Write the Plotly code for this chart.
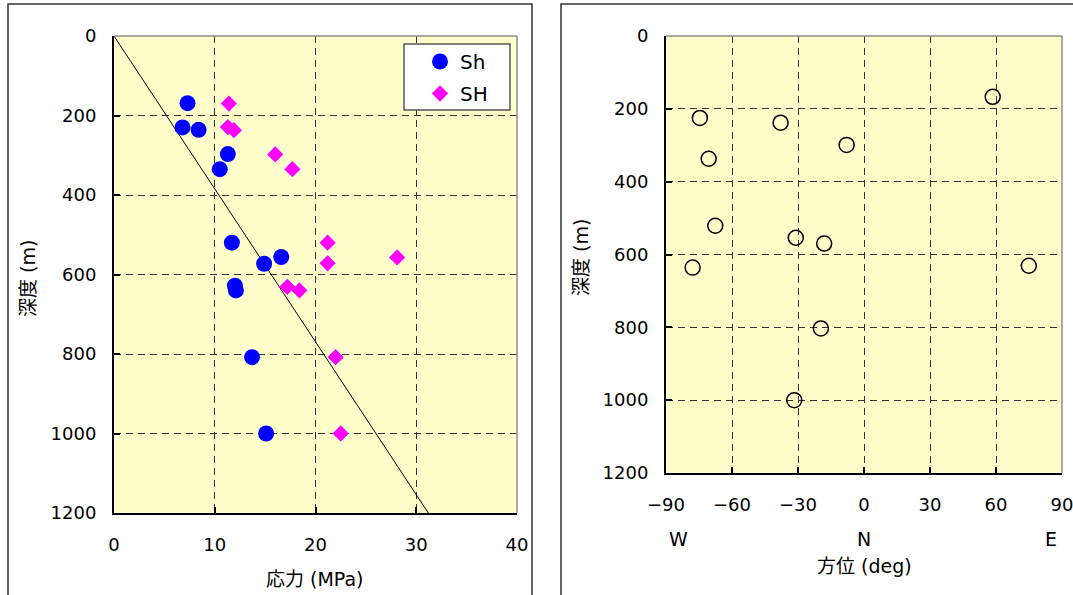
import plotly.graph_objects as go

# ---- data ----
sh_stress = [7.3, 6.8, 8.4, 11.3, 10.5, 11.7, 14.9, 16.6, 12.0, 12.1, 13.7, 15.1]
sh_depth = [169, 230, 236, 297, 335, 520, 573, 556, 628, 640, 808, 1000]
SH_stress = [11.4, 11.3, 11.9, 16.0, 17.7, 21.2, 21.2, 28.1, 17.2, 18.4, 22.0, 22.5]
SH_depth = [170, 229, 237, 298, 335, 520, 572, 557, 631, 640, 808, 1000]
line_stress = [0, 31.2]
line_depth = [0, 1200]

az_deg = [-74.6, -70.6, -67.6, -77.9, -37.9, -7.9, -31.0, -18.1, 58.5, 74.9, -19.6, -31.7]
az_depth = [225, 337, 521, 636, 238, 299, 554, 570, 167, 631, 803, 1000]

stress_ticks = [0, 10, 20, 30, 40]
depth_ticks = [0, 200, 400, 600, 800, 1000, 1200]
az_ticks = [-90, -60, -30, 0, 30, 60, 90]
az_ticktext = ["\u221290", "\u221260", "\u221230", "0", "30", "60", "90"]
dir_labels = ["W", "N", "E"]

W, H = 1073, 595
FONT = "DejaVu Sans, Noto Sans CJK JP, sans-serif"
GRID = "#333333"
BG = "#FFFFCC"

fig = go.Figure()

fig.add_trace(go.Scatter(x=line_stress, y=line_depth, mode="lines",
                         line=dict(color="black", width=1), showlegend=False,
                         xaxis="x", yaxis="y"))
fig.add_trace(go.Scatter(x=sh_stress, y=sh_depth, mode="markers", name="Sh",
                         legendgroup="a",
                         marker=dict(symbol="circle", size=16, color="#0000FF"),
                         xaxis="x", yaxis="y"))
fig.add_trace(go.Scatter(x=SH_stress, y=SH_depth, mode="markers", name="SH",
                         legendgroup="b",
                         marker=dict(symbol="diamond", size=12.5, color="#FF00FF"),
                         xaxis="x", yaxis="y"))
fig.add_trace(go.Scatter(x=az_deg, y=az_depth, mode="markers", showlegend=False,
                         marker=dict(symbol="circle-open", size=15, color="black",
                                     line=dict(color="black", width=1.5)),
                         xaxis="x2", yaxis="y2"))

def px_x(p):
    return p / W

def px_y(p):
    return 1 - p / H

common_axis = dict(showline=True, linecolor="black", linewidth=2, mirror=False,
                   ticks="inside", ticklen=6, tickcolor="black", tickwidth=1.5,
                   showgrid=True, gridcolor=GRID, gridwidth=1, griddash="7px,5px",
                   zeroline=False, ticklabeloverflow="allow",
                   tickfont=dict(family=FONT, size=18, color="black"))

fig.update_layout(
    width=W, height=H,
    margin=dict(l=0, r=0, t=0, b=0, autoexpand=False),
    paper_bgcolor="white",
    plot_bgcolor=BG,
    font=dict(family=FONT, color="black"),
    xaxis=dict(domain=[px_x(114), px_x(517)], range=[0, 40], tickvals=stress_ticks,
               anchor="y", ticklabelstandoff=14, **common_axis),
    yaxis=dict(domain=[px_y(513), px_y(36)], range=[1200, 0], tickvals=depth_ticks,
               anchor="x", ticklabelstandoff=12, **common_axis),
    xaxis2=dict(domain=[px_x(666), px_x(1062)], range=[-90, 90], tickvals=az_ticks,
                ticktext=az_ticktext, anchor="y2", ticklabelstandoff=14, **common_axis),
    yaxis2=dict(domain=[px_y(473), px_y(36)], range=[1200, 0], tickvals=depth_ticks,
                anchor="x2", ticklabelstandoff=12, **common_axis),
    legend=dict(x=px_x(420), y=px_y(42), xanchor="left", yanchor="top",
                bgcolor="rgba(0,0,0,0)", borderwidth=0,
                font=dict(family=FONT, size=20, color="black"),
                itemwidth=30, tracegroupgap=3),
)

shapes = []
# panel borders
shapes.append(dict(type="rect", xref="paper", yref="paper",
                   x0=px_x(8), x1=px_x(532), y0=-0.05, y1=px_y(4),
                   line=dict(color="#333333", width=1.5), layer="below"))
shapes.append(dict(type="rect", xref="paper", yref="paper",
                   x0=px_x(561), x1=1.05, y0=-0.05, y1=px_y(4),
                   line=dict(color="#333333", width=1.5), layer="below"))
# gray top/right frame of plot areas
for xr, yr in (("x domain", "y domain"), ("x2 domain", "y2 domain")):
    shapes.append(dict(type="line", xref=xr, yref=yr, x0=0, x1=1, y0=1, y1=1,
                       line=dict(color="#8c8c8c", width=1.5)))
    shapes.append(dict(type="line", xref=xr, yref=yr, x0=1, x1=1, y0=0, y1=1,
                       line=dict(color="#8c8c8c", width=1.5)))
# legend frame
shapes.append(dict(type="rect", xref="paper", yref="paper", layer="above",
                   x0=px_x(404), x1=px_x(510), y0=px_y(110), y1=px_y(44),
                   fillcolor="white", line=dict(color="#555555", width=1.5)))
fig.update_layout(shapes=shapes)

TFONT = dict(family=FONT, size=19, color="black")
ann = []
ann.append(dict(text="応力 (MPa)", x=px_x(315), y=px_y(579), xref="paper", yref="paper",
                showarrow=False, font=TFONT, xanchor="center", yanchor="middle"))
ann.append(dict(text="深度 (m)", x=px_x(28), y=px_y(279), xref="paper", yref="paper",
                showarrow=False, textangle=-90, font=TFONT,
                xanchor="center", yanchor="middle"))
ann.append(dict(text="深度 (m)", x=px_x(581), y=px_y(258), xref="paper", yref="paper",
                showarrow=False, textangle=-90, font=TFONT,
                xanchor="center", yanchor="middle"))
ann.append(dict(text="方位 (deg)", x=px_x(864), y=px_y(566), xref="paper", yref="paper",
                showarrow=False, font=TFONT, xanchor="center", yanchor="middle"))
for lab, pos in zip(dir_labels, [-84.5, 0, 85]):
    ann.append(dict(text=lab, x=pos, y=px_y(539), xref="x2", yref="paper",
                    showarrow=False, font=dict(family=FONT, size=19, color="black"),
                    xanchor="center", yanchor="middle"))
fig.update_layout(annotations=ann)

fig.write_html("out.html")
